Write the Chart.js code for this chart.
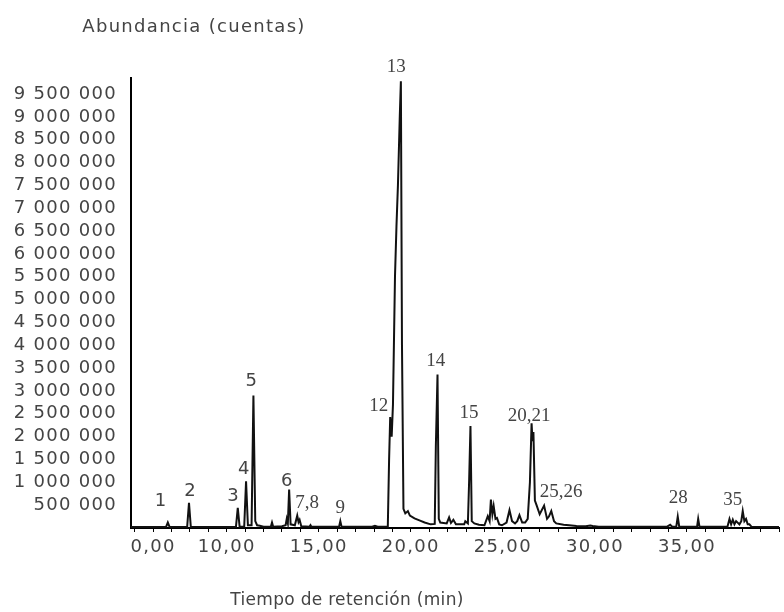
<!DOCTYPE html>
<html lang="es">
<head>
<meta charset="utf-8">
<title>Cromatograma</title>
<script src="https://cdn.jsdelivr.net/npm/chart.js@4.4.1/dist/chart.umd.min.js"></script>
<style>
    body { margin: 0; background: #fff; }
    canvas { display: block; }
</style>
</head>
<body>
<canvas id="cromatogramaChart" width="784" height="612"></canvas>
<script>
const tiempos = [
    4.8, 6.70, 6.80, 6.90, 7.85, 7.95, 8.05, 10.50, 10.60, 10.70,
    10.95, 11.05, 11.15, 11.35, 11.45, 11.55, 11.65, 11.80, 12.00, 12.40,
    12.46, 12.52, 13.00, 13.20, 13.26, 13.32, 13.39, 13.47, 13.70, 13.83,
    13.90, 13.96, 14.05, 14.50, 14.55, 14.60, 16.10, 16.17, 16.24, 17.90,
    18.05, 18.20, 18.75, 18.82, 18.88, 18.96, 19.03, 19.14, 19.22, 19.30,
    19.40, 19.46, 19.52, 19.60, 19.70, 19.84, 19.95, 20.20, 20.50, 20.75,
    21.08, 21.30, 21.36, 21.45, 21.52, 21.60, 21.95, 22.08, 22.18, 22.31,
    22.45, 22.90, 22.96, 23.10, 23.17, 23.24, 23.31, 23.45, 23.70, 24.00,
    24.18, 24.28, 24.35, 24.43, 24.50, 24.60, 24.68, 24.80, 24.95, 25.20,
    25.36, 25.50, 25.66, 25.78, 25.90, 26.05, 26.21, 26.35, 26.47, 26.56,
    26.61, 26.66, 26.74, 26.83, 27.00, 27.24, 27.40, 27.50, 27.63, 27.78,
    27.90, 28.30, 28.60, 29.00, 29.50, 29.75, 29.88, 30.20, 33.90, 34.09,
    34.20, 34.42, 34.50, 34.58, 35.55, 35.61, 35.68, 37.20, 37.31, 37.40,
    37.49, 37.58, 37.67, 37.85, 37.95, 38.03, 38.12, 38.21, 38.30, 38.39,
    38.50, 40.00
];
const abundancia = [
    20000, 20000, 120000, 20000, 20000, 550000, 20000, 20000, 440000, 30000,
    30000, 1020000, 60000, 60000, 2900000, 150000, 60000, 50000, 30000, 30000,
    120000, 30000, 40000, 60000, 200000, 100000, 840000, 80000, 60000, 270000,
    130000, 180000, 40000, 30000, 60000, 25000, 25000, 150000, 25000, 30000,
    50000, 30000, 30000, 1500000, 2430000, 2000000, 2700000, 5500000, 6600000, 7500000,
    9000000, 9780000, 4000000, 420000, 320000, 370000, 270000, 210000, 160000, 120000,
    80000, 90000, 1800000, 3360000, 200000, 120000, 100000, 230000, 110000, 180000,
    80000, 80000, 150000, 100000, 1060000, 2230000, 150000, 100000, 70000, 60000,
    260000, 150000, 620000, 300000, 480000, 200000, 220000, 80000, 60000, 120000,
    390000, 150000, 100000, 150000, 280000, 120000, 120000, 200000, 1000000, 2290000,
    1900000, 2100000, 600000, 500000, 300000, 490000, 200000, 250000, 370000, 150000,
    100000, 70000, 60000, 45000, 40000, 55000, 45000, 25000, 25000, 70000,
    30000, 30000, 250000, 30000, 30000, 200000, 30000, 30000, 200000, 80000,
    180000, 80000, 150000, 80000, 150000, 370000, 150000, 200000, 80000, 80000,
    30000, 20000
];

// Picos identificados: nombre, tiempo y altura donde va la etiqueta
const picosNombre = ['1', '2', '3', '4', '5', '6', '7,8', '9', '12', '13', '14', '15', '20,21', '25,26', '28', '35'];
const picosTiempo = [6.40, 8.01, 10.34, 10.93, 11.33, 13.26, 14.37, 16.17, 18.26, 19.21, 21.36, 23.16, 26.43, 28.17, 34.53, 37.49];
const picosAltura = [590000, 810000, 700000, 1280000, 3210000, 1020000, 550000, 440000, 2670000, 10080000, 3650000, 2520000, 2460000, 780000, 660000, 620000];
// los primeros seis van en letra sin serifa, el resto con serifa
const picosSerif = [false, false, false, false, false, false, true, true, true, true, true, true, true, true, true, true];

// Marcas de los ejes
const xMarcas = [5, 6, 7, 8, 9, 10, 11, 12, 13, 14, 15, 16, 17, 18, 19, 20, 21, 22, 23, 24, 25, 26, 27, 28, 29, 30, 31, 32, 33, 34, 35, 36, 37, 38, 39, 40];
const xEtiquetasValor = [6, 10, 15, 20, 25, 30, 35];
const xEtiquetas = ['0,00', '10,00', '15,00', '20,00', '25,00', '30,00', '35,00'];
const yMarcas = [500000, 1000000, 1500000, 2000000, 2500000, 3000000, 3500000, 4000000, 4500000, 5000000,
    5500000, 6000000, 6500000, 7000000, 7500000, 8000000, 8500000, 9000000, 9500000];
const yEtiquetas = ['500 000', '1 000 000', '1 500 000', '2 000 000', '2 500 000', '3 000 000', '3 500 000', '4 000 000', '4 500 000', '5 000 000',
    '5 500 000', '6 000 000', '6 500 000', '7 000 000', '7 500 000', '8 000 000', '8 500 000', '9 000 000', '9 500 000'];

const tituloY = 'Abundancia (cuentas)';
const tituloX = 'Tiempo de retención (min)';

// Plugin para dibujar los títulos y las etiquetas de los picos
const textosPlugin = {
    id: 'textos',
    beforeDraw(chart) {
        // letra más espaciada, como la del original
        chart.ctx.letterSpacing = '1.3px';
    },
    afterDatasetsDraw(chart) {
        const ctx = chart.ctx;
        const xs = chart.scales.x;
        const ys = chart.scales.y;
        ctx.save();
        ctx.fillStyle = '#444';
        ctx.textAlign = 'center';
        ctx.textBaseline = 'middle';
        for (let i = 0; i < picosNombre.length; i++) {
            ctx.letterSpacing = '0px';
            ctx.font = picosSerif[i] ? '19px "Liberation Serif"' : '18px "DejaVu Sans"';
            ctx.fillText(picosNombre[i], xs.getPixelForValue(picosTiempo[i]), ys.getPixelForValue(picosAltura[i]));
        }
        ctx.font = '18px "DejaVu Sans"';
        ctx.letterSpacing = '1.3px';
        ctx.fillText(tituloY, 194, 27);
        ctx.font = '17px "DejaVu Sans"';
        ctx.letterSpacing = '0.3px';
        ctx.fillText(tituloX, 347, 601);
        ctx.restore();
    }
};

function crearCromatograma() {
    const ctx = document.getElementById('cromatogramaChart').getContext('2d');
    const puntos = tiempos.map((t, i) => ({ x: t, y: abundancia[i] }));

    new Chart(ctx, {
        type: 'line',
        data: {
            datasets: [{
                data: puntos,
                borderColor: '#111',
                borderWidth: 2,
                pointRadius: 0,
                tension: 0,
                fill: false
            }]
        },
        options: {
            responsive: false,
            animation: false,
            layout: { padding: { top: 78, right: 0, left: 0, bottom: 0 } },
            plugins: {
                legend: { display: false },
                tooltip: { enabled: false }
            },
            scales: {
                x: {
                    type: 'linear',
                    min: 4.8,
                    max: 40,
                    afterBuildTicks: (scale) => { scale.ticks = xMarcas.map(v => ({ value: v })); },
                    afterFit: (scale) => { scale.height = 84; },
                    border: { color: '#000', width: 2 },
                    grid: { drawOnChartArea: false, drawTicks: true, tickLength: 4, tickColor: '#000' },
                    ticks: {
                        autoSkip: false,
                        maxRotation: 0,
                        padding: 5,
                        color: '#444',
                        font: { family: 'DejaVu Sans', size: 18 },
                        callback: function(value) {
                            const k = xEtiquetasValor.indexOf(value);
                            return k >= 0 ? xEtiquetas[k] : '';
                        }
                    }
                },
                y: {
                    min: 0,
                    max: 9850000,
                    afterBuildTicks: (scale) => { scale.ticks = yMarcas.map(v => ({ value: v })); },
                    afterFit: (scale) => { scale.width = 131; },
                    border: { color: '#000', width: 2 },
                    grid: { drawOnChartArea: false, drawTicks: false },
                    ticks: {
                        autoSkip: false,
                        padding: 14,
                        color: '#444',
                        font: { family: 'DejaVu Sans', size: 18 },
                        callback: function(value) {
                            const k = yMarcas.indexOf(value);
                            return k >= 0 ? yEtiquetas[k] : '';
                        }
                    }
                }
            }
        },
        plugins: [textosPlugin]
    });
}

crearCromatograma();
</script>
</body>
</html>
